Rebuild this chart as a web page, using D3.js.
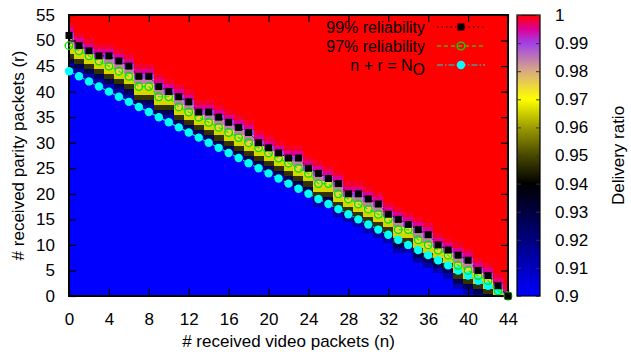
<!DOCTYPE html>
<html>
<head>
<meta charset="utf-8">
<script src="https://cdn.jsdelivr.net/npm/d3@7"></script>
<style>
  body { margin: 0; background: #fff; }
  text { font-family: "Liberation Sans", Arial, sans-serif; }
</style>
</head>
<body>
<svg id="chart" width="631" height="355"></svg>
<script>
// n = received video packets, one column per value
const nValues = [0,1,2,3,4,5,6,7,8,9,10,11,12,13,14,15,16,17,18,19,20,21,22,23,24,25,26,27,28,29,30,31,32,33,34,35,36,37,38,39,40,41,42,43,44];
const rel99 = [51,49,48,47,47,46,45,43,43,41,40,39,38,36,36,35,34,33,32,30,29,28,27,27,25,24,23,22,20,20,19,18,16,15,14,13,12,10,9,8,7,5,4,2,0];
const rel97 = [49,48,47,46,45,44,43,41,41,39,39,37,36,35,34,33,32,31,30,29,28,27,26,25,24,22,22,20,19,18,17,16,15,13,13,11,10,9,8,6,5,4,3,1,0];
// n + r = N_O  (N_O = 44)
const nrLine = [44,43,42,41,40,39,38,37,36,35,34,33,32,31,30,29,28,27,26,25,24,23,22,21,20,19,18,17,16,15,14,13,12,11,10,9,8,7,6,5,4,3,2,1,0];
const rValues = d3.range(0, 56);

// delivery ratio in a column, by row offset from the 97% row (-5..0) and from the 99% row (0..+3)
const belowProfile = [0.9, 0.913, 0.926, 0.947, 0.966, 0.975];
const gapValue = 0.984;
const aboveProfile = [0.99, 0.995, 0.9985, 1];

const xTicks = [0,4,8,12,16,20,24,28,32,36,40,44];
const yTicks = [0,5,10,15,20,25,30,35,40,45,50,55];
const cbTicks = [0.9,0.91,0.92,0.93,0.94,0.95,0.96,0.97,0.98,0.99,1];

const paletteStops  = [0.90, 0.91, 0.92, 0.93, 0.94, 0.95, 0.96, 0.97, 0.98, 0.99, 0.995, 1];
const paletteColors = ["#0000ff","#0000c0","#00007e","#000040","#000000","#484800","#9c9c00","#ffff00","#d8aa82","#a040e8","#dc0096","#ff0000"];

const svg = d3.select("#chart");
const L = 69, R = 508, T = 15, B = 296;
const fontSize = 17;
const legendFont = 16;

const x = d3.scaleLinear().domain([0, 44]).range([L, R]);
const y = d3.scaleLinear().domain([0, 55]).range([B, T]);
const color = d3.scaleLinear().domain(paletteStops).range(paletteColors).clamp(true);

function ratioAt(i, r) {
  const a = rel97[i], b = rel99[i];
  if (r <= a) {
    const k = belowProfile.length - 1 + (r - a);
    return k < 0 ? belowProfile[0] : belowProfile[k];
  }
  if (r < b) return gapValue;
  const k = r - b;
  return k >= aboveProfile.length ? 1 : aboveProfile[k];
}

const cells = [];
nValues.forEach((n, i) => {
  rValues.forEach(r => cells.push({ n, r, v: ratioAt(i, r) }));
});

svg.append("clipPath").attr("id", "plotclip")
  .append("rect").attr("x", L).attr("y", T).attr("width", R - L).attr("height", B - T);

svg.append("g").attr("clip-path", "url(#plotclip)")
  .selectAll("rect").data(cells).enter().append("rect")
  .attr("x", d => x(Math.max(d.n - 0.5, 0)))
  .attr("width", d => x(Math.min(d.n + 0.5, 44)) - x(Math.max(d.n - 0.5, 0)) + 0.4)
  .attr("y", d => y(Math.min(d.r + 0.5, 55)))
  .attr("height", d => y(Math.max(d.r - 0.5, 0)) - y(Math.min(d.r + 0.5, 55)) + 0.4)
  .attr("fill", d => color(d.v))
  .attr("shape-rendering", "crispEdges");

// axes with inward ticks
const xAxis = svg.append("g").attr("transform", `translate(0,${B})`)
  .call(d3.axisBottom(x).tickValues(xTicks).tickSize(-7).tickPadding(17));
const xTop = svg.append("g").attr("transform", `translate(0,${T})`)
  .call(d3.axisTop(x).tickValues(xTicks).tickSize(-7).tickFormat(""));
const yAxis = svg.append("g").attr("transform", `translate(${L},0)`)
  .call(d3.axisLeft(y).tickValues(yTicks).tickSize(-7).tickPadding(14));
const yRight = svg.append("g").attr("transform", `translate(${R},0)`)
  .call(d3.axisRight(y).tickValues(yTicks).tickSize(-7).tickFormat(""));
[xAxis, xTop, yAxis, yRight].forEach(g => {
  g.select(".domain").remove();
  g.selectAll("line").attr("stroke", "#000").attr("stroke-width", 1.2);
  g.selectAll("text").attr("font-size", fontSize).attr("fill", "#000")
    .style("font-family", '"Liberation Sans", Arial, sans-serif');
});

svg.append("rect").attr("x", L).attr("y", T).attr("width", R - L).attr("height", B - T)
  .attr("fill", "none").attr("stroke", "#000").attr("stroke-width", 2);

// series
const seriesLine = d3.line().x((d, i) => x(nValues[i])).y(d => y(d));

svg.append("path").datum(nrLine).attr("d", seriesLine)
  .attr("fill", "none").attr("stroke", "#00e0e0").attr("stroke-width", 1.2)
  .attr("stroke-dasharray", "6,2,1.5,2");
svg.append("g").selectAll("circle").data(nrLine).enter().append("circle")
  .attr("cx", (d, i) => x(nValues[i])).attr("cy", d => y(d)).attr("r", 4.2)
  .attr("fill", "#00ffff");

svg.append("path").datum(rel97).attr("d", seriesLine)
  .attr("fill", "none").attr("stroke", "#00ff00").attr("stroke-width", 1.2)
  .attr("stroke-dasharray", "4,3");
svg.append("g").selectAll("circle").data(rel97).enter().append("circle")
  .attr("cx", (d, i) => x(nValues[i])).attr("cy", d => y(d)).attr("r", 3.8)
  .attr("fill", "none").attr("stroke", "#00e000").attr("stroke-width", 1.3);

svg.append("path").datum(rel99).attr("d", seriesLine)
  .attr("fill", "none").attr("stroke", "#000").attr("stroke-width", 1)
  .attr("stroke-dasharray", "1.5,3");
svg.append("g").selectAll("rect").data(rel99).enter().append("rect")
  .attr("x", (d, i) => x(nValues[i]) - 3.5).attr("y", d => y(d) - 3.5)
  .attr("width", 7).attr("height", 7).attr("fill", "#000");

// legend
const legend = svg.append("g");
const legendRows = [
  { label: "99% reliability", y: 27 },
  { label: "97% reliability", y: 46 },
  { label: "n + r = N", sub: "O", y: 65 }
];
legendRows.forEach((row, i) => {
  const t = legend.append("text").attr("x", 425).attr("y", row.y).attr("dy", "0.35em")
    .attr("text-anchor", "end").attr("font-size", legendFont).text(row.label);
  if (row.sub) {
    t.text("");
    t.append("tspan").text(row.label);
    t.append("tspan").attr("dy", "0.25em").text(row.sub);
  }
  const line = legend.append("line").attr("x1", 437).attr("x2", 485)
    .attr("y1", row.y).attr("y2", row.y).attr("stroke-width", 1.2);
  if (i === 0) {
    line.attr("stroke", "#000").attr("stroke-dasharray", "1.5,3");
    legend.append("rect").attr("x", 461 - 3.5).attr("y", row.y - 3.5).attr("width", 7).attr("height", 7).attr("fill", "#000");
  } else if (i === 1) {
    line.attr("stroke", "#00ff00").attr("stroke-dasharray", "4,3");
    legend.append("circle").attr("cx", 461).attr("cy", row.y).attr("r", 3.8)
      .attr("fill", "none").attr("stroke", "#00e000").attr("stroke-width", 1.3);
  } else {
    line.attr("stroke", "#00e0e0").attr("stroke-dasharray", "6,2,1.5,2");
    legend.append("circle").attr("cx", 461).attr("cy", row.y).attr("r", 4.2).attr("fill", "#00ffff");
  }
});

// axis titles
svg.append("text").attr("x", (L + R) / 2).attr("y", 347).attr("text-anchor", "middle")
  .attr("font-size", fontSize).text("# received video packets (n)");
svg.append("text").attr("transform", `translate(24,${(T + B) / 2}) rotate(-90)`)
  .attr("text-anchor", "middle").attr("font-size", fontSize).text("# received parity packets (r)");

// colour box
const cbL = 517, cbR = 540;
const cy = d3.scaleLinear().domain([0.9, 1]).range([B, T]);
const grad = svg.append("defs").append("linearGradient").attr("id", "cbgrad")
  .attr("x1", 0).attr("y1", 1).attr("x2", 0).attr("y2", 0);
paletteStops.forEach((s, i) => {
  grad.append("stop").attr("offset", (s - 0.9) / 0.1).attr("stop-color", paletteColors[i]);
});
svg.append("rect").attr("x", cbL).attr("y", T).attr("width", cbR - cbL).attr("height", B - T)
  .attr("fill", "url(#cbgrad)").attr("stroke", "#000").attr("stroke-width", 1.2);
const cbAxis = svg.append("g").attr("transform", `translate(${cbR},0)`)
  .call(d3.axisRight(cy).tickValues(cbTicks).tickSize(-4).tickPadding(15).tickFormat(d3.format("~g")));
cbAxis.select(".domain").remove();
cbAxis.selectAll("line").attr("stroke", "#333");
cbAxis.selectAll("text").attr("font-size", fontSize).attr("fill", "#000")
  .style("font-family", '"Liberation Sans", Arial, sans-serif');
const cbLeft = svg.append("g").attr("transform", `translate(${cbL},0)`)
  .call(d3.axisLeft(cy).tickValues(cbTicks).tickSize(-4).tickFormat(""));
cbLeft.select(".domain").remove();
cbLeft.selectAll("line").attr("stroke", "#333");

svg.append("text").attr("transform", `translate(624,${(T + B) / 2}) rotate(-90)`)
  .attr("text-anchor", "middle").attr("font-size", fontSize).text("Delivery ratio");
</script>
</body>
</html>
